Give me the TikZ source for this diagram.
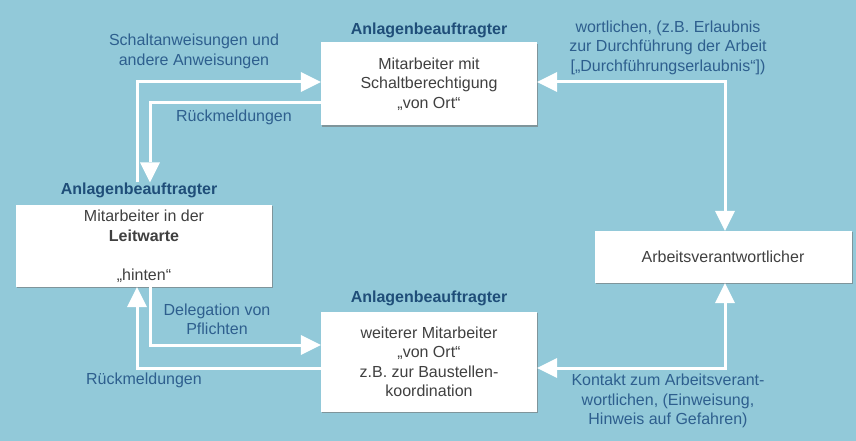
\documentclass[tikz,border=0pt]{standalone}
\usepackage{fontspec}
\setmainfont{Liberation Sans}
\usetikzlibrary{positioning}
\usetikzlibrary{arrows.meta}
\usetikzlibrary{shadows}

\definecolor{hgblau}{HTML}{92C9D9}
\definecolor{textblau}{HTML}{2E5F8E}
\definecolor{titelblau}{HTML}{1F4E79}
\definecolor{boxtext}{HTML}{404040}

\tikzset{
  box/.style={fill=white, text=boxtext, align=center, inner sep=0pt,
    drop shadow={shadow xshift=1.2pt, shadow yshift=-1.2pt, fill=black!55, opacity=0.6},
    font=\fontsize{16}{19.5}\selectfont},
  beschr/.style={text=textblau, align=center, inner sep=0pt,
    font=\fontsize{16}{19.5}\selectfont},
  titel/.style={text=titelblau, inner sep=0pt,
    font=\fontsize{16}{19.5}\selectfont\bfseries},
  spitze/.tip={Triangle[width=20pt,length=20pt,line width=0pt]},
  pfeil/.style={draw=white, line width=3pt, -spitze},
  doppelpfeil/.style={draw=white, line width=3pt, spitze-spitze}
}

\begin{document}
\begin{tikzpicture}[x=1pt,y=-1pt]
  \useasboundingbox[fill=hgblau] (0,0) rectangle (856,441);

  % Kaesten
  \node[box, minimum width=216pt, minimum height=83pt] (ob) at (429,84)
    {Mitarbeiter mit\\Schaltberechtigung\\„von Ort“};
  \node[box, minimum width=256pt, minimum height=82pt] (lw) at (144,246)
    {Mitarbeiter in der\\\textbf{Leitwarte}\\[19.5pt]„hinten“};
  \node[box, minimum width=216pt, minimum height=100pt] (wm) at (429,362)
    {weiterer Mitarbeiter\\„von Ort“\\z.B. zur Baustellen-\\koordination};
  \node[box, minimum width=257pt, minimum height=52pt] (av) at (723,257)
    {Arbeitsverantwortlicher};

  % Titel ueber den Kaesten
  \node[titel] (tob) at (429,30) {Anlagenbeauftragter};
  \node[titel] (tlw) at (139,190) {Anlagenbeauftragter};
  \node[titel] (twm) at (429,298) {Anlagenbeauftragter};

  % Pfeile
  \draw[pfeil] ([xshift=-2pt]tlw.north) |- ([yshift=2pt]ob.west);
  \draw[pfeil] ([yshift=-19pt]ob.west) -| ([xshift=11pt]tlw.north);
  \draw[doppelpfeil] ([yshift=2pt]ob.east) -| ([xshift=2pt]av.north);
  \draw[doppelpfeil] ([yshift=-6pt]wm.east) -| ([xshift=2pt]av.south);
  \draw[pfeil] ([xshift=6pt]lw.south) |- ([yshift=17pt]wm.west);
  \draw[pfeil] ([yshift=-6pt]wm.west) -| ([xshift=-7pt]lw.south);

  % Beschriftungen
  \node[beschr] (schalt) at (194,51.5) {Schaltanweisungen und\\andere Anweisungen};
  \node[beschr] (rueckoben) at (234,117) {Rückmeldungen};
  \node[beschr] (erlaubnis) at (668,47.5)
    {wortlichen, (z.B. Erlaubnis\\zur Durchführung der Arbeit\\{[}„Durchführungserlaubnis“])};
  \node[beschr] (deleg) at (217,319.5) {Delegation von\\Pflichten};
  \node[beschr] (rueckunten) at (144,380) {Rückmeldungen};
  \node[beschr] (kontakt) at (668,401)
    {Kontakt zum Arbeitsverant-\\wortlichen, (Einweisung,\\Hinweis auf Gefahren)};
\end{tikzpicture}
\end{document}
